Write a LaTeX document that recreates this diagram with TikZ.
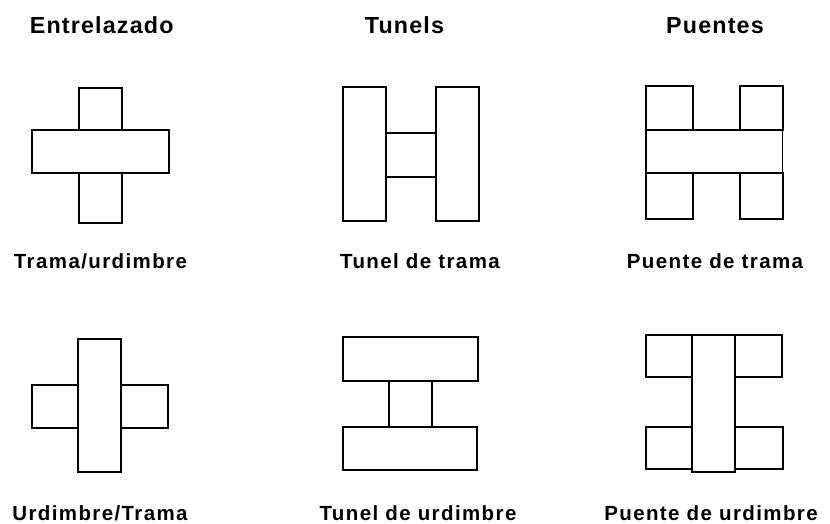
\documentclass[tikz,border=0pt]{standalone}
\usepackage{fontspec}
\setmainfont{Liberation Sans}
\newfontfamily\ttlfont{Liberation Sans}[LetterSpace=5]
\newfontfamily\lblfont{Liberation Sans}[LetterSpace=6.8]
\tikzset{
  box/.style={draw=black, line width=1.9pt, line join=miter},
  ttl/.style={anchor=base, inner sep=0pt, font=\ttlfont\bfseries\fontsize{23.3}{28}\selectfont},
  lbl/.style={anchor=base, inner sep=0pt, font=\lblfont\bfseries\fontsize{20.5}{24}\selectfont}
}
\begin{document}
\begin{tikzpicture}[x=1pt, y=-1pt]
\useasboundingbox (0,0) rectangle (830,524);
% titles
\node[ttl] (t1) at (101.7,34) {Entrelazado};
\node[ttl] (t2) at (404.5,34) {Tunels};
\node[ttl] (t3) at (715,34) {Puentes};
% labels
\node[lbl] (l1) at (100.5,268.5) {Trama/urdimbre};
\node[lbl] (l2) at (420,268.5) {Tunel de trama};
\node[lbl] (l3) at (715,268.5) {Puente de trama};
\node[lbl] (l4) at (100,520) {Urdimbre/Trama};
\node[lbl] (l5) at (418,520) {Tunel de urdimbre};
\node[lbl] (l6) at (711,520) {Puente de urdimbre};
% Fig 1: Trama/urdimbre
\draw[box] (79.3,88.3) rectangle (122,130);
\draw[box] (31.7,130) rectangle (169,172.7);
\draw[box] (79.3,172.7) rectangle (122,222.7);
% Fig 2: Tunel de trama
\draw[box] (343.3,86.7) rectangle (386,220.7);
\draw[box] (436,86.7) rectangle (479,220.7);
\draw[box] (386,132.7) -- (436,132.7);
\draw[box] (386,176.7) -- (436,176.7);
% Fig 3: Puente de trama
\draw[box] (646,85.7) rectangle (692.7,130);
\draw[box] (740,85.7) rectangle (783.3,130);
\draw[box] (646,130) rectangle (782.5,172.7);
\draw[box] (646,172.7) rectangle (692.7,219);
\draw[box] (740,172.7) rectangle (783.3,219);
% Fig 4: Urdimbre/Trama
\draw[box] (78.3,339) rectangle (121.3,471.7);
\draw[box] (32.3,385) rectangle (78.3,428.3);
\draw[box] (121.3,385) rectangle (167.7,428.3);
% Fig 5: Tunel de urdimbre
\draw[box] (343.3,337.3) rectangle (478.3,380.7);
\draw[box] (389,380.7) rectangle (431.7,427.3);
\draw[box] (343.3,427.3) rectangle (476.7,470);
% Fig 6: Puente de urdimbre
\draw[box] (646,335) rectangle (691.7,377.3);
\draw[box] (735,335) rectangle (781.7,377.3);
\draw[box] (646,426.7) rectangle (691.7,469.3);
\draw[box] (735,426.7) rectangle (783.3,469.3);
\draw[box] (691.7,335) rectangle (735,471.7);
\end{tikzpicture}
\end{document}
